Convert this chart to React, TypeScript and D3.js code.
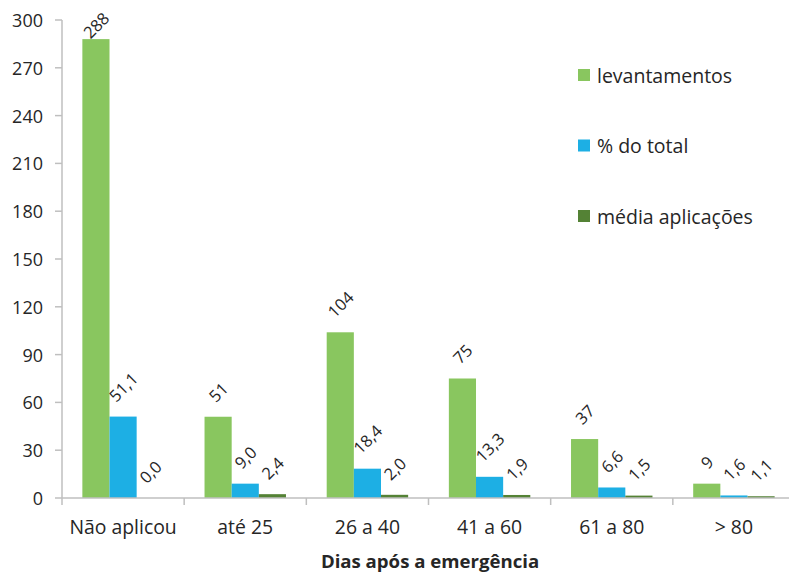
import React from "react";
import * as d3 from "d3";

const categories = ["Não aplicou", "até 25", "26 a 40", "41 a 60", "61 a 80", "> 80"];
const seriesNames = ["levantamentos", "% do total", "média aplicações"];
const levantamentos = [288, 51, 104, 75, 37, 9];
const percentTotal = [51.1, 9.0, 18.4, 13.3, 6.6, 1.6];
const mediaAplicacoes = [0.0, 2.4, 2.0, 1.9, 1.5, 1.1];
const yTicks = [0, 30, 60, 90, 120, 150, 180, 210, 240, 270, 300];
const xTitle = "Dias após a emergência";

const seriesValues = [levantamentos, percentTotal, mediaAplicacoes];
const seriesColors = ["#89C65F", "#1DAFE4", "#548235"];
const seriesDecimals = [0, 1, 1];

const W = 789;
const H = 573;
const FONT = "'Open Sans', Lato, sans-serif";
const LABEL_SIZE = 16.5;

const ctx = typeof document !== "undefined" ? document.createElement("canvas").getContext("2d") : null;
function textWidth(s: string, size: number, weight = "normal") {
  if (!ctx) return s.length * size * 0.55;
  ctx.font = `${weight} ${size}px ${FONT}`;
  return ctx.measureText(s).width;
}

function fmt(v: number, dec: number) {
  return v.toFixed(dec).replace(".", ",");
}

export default function App() {
  const x = d3.scaleBand<string>().domain(categories).range([62, 795]).paddingInner(0).paddingOuter(0);
  const inner = d3
    .scaleBand<string>()
    .domain(seriesNames)
    .range([0, x.bandwidth()])
    .paddingInner(0)
    .paddingOuter(0.75);
  const y = d3.scaleLinear().domain([0, 300]).range([498, 20]);

  const labels: React.ReactNode[] = [];
  const bars: React.ReactNode[] = [];
  seriesValues.forEach((vals, si) => {
    vals.forEach((v, ci) => {
      const bx = (x(categories[ci]) ?? 0) + (inner(seriesNames[si]) ?? 0);
      const bw = inner.bandwidth();
      const top = y(v);
      bars.push(
        <rect key={`b${si}-${ci}`} x={bx} y={top} width={bw} height={y(0) - top} fill={seriesColors[si]} />
      );
      // value label, rotated 45° and kept clear of the bar top
      const txt = fmt(v, seriesDecimals[si]);
      const w = textWidth(txt, LABEL_SIZE);
      const h = LABEL_SIZE * 0.72;
      const half = (w + h) * 0.3535;
      const cx = bx + bw / 2;
      const cy = Math.max(top - 14 - half, 25);
      labels.push(
        <text
          key={`l${si}-${ci}`}
          x={cx}
          y={cy}
          transform={`rotate(-45 ${cx} ${cy})`}
          textAnchor="middle"
          dominantBaseline="central"
          fontSize={LABEL_SIZE}
          fill="#262626"
        >
          {txt}
        </text>
      );
    });
  });

  return (
    <svg
      width={W}
      height={H}
      style={{ position: "absolute", left: 0, top: 0, background: "#fff" }}
      fontFamily={FONT}
    >
      {/* y axis */}
      <line x1={62} x2={62} y1={y(300)} y2={y(0)} stroke="#BFBFBF" strokeWidth={1.5} />
      {yTicks.map((t) => (
        <g key={t}>
          <line x1={55} x2={62} y1={y(t)} y2={y(t)} stroke="#BFBFBF" strokeWidth={1.5} />
          <text x={43} y={y(t)} textAnchor="end" dominantBaseline="central" fontSize={18} fill="#262626">
            {t}
          </text>
        </g>
      ))}
      {bars}
      {/* x axis */}
      <line x1={62} x2={795} y1={y(0)} y2={y(0)} stroke="#BFBFBF" strokeWidth={1.5} />
      {categories.map((c) => (
        <g key={c}>
          <line x1={x(c)!} x2={x(c)!} y1={y(0)} y2={y(0) + 7} stroke="#BFBFBF" strokeWidth={1.5} />
          <text x={x(c)! + x.bandwidth() / 2} y={534} textAnchor="middle" fontSize={19.4} fill="#262626">
            {c}
          </text>
        </g>
      ))}
      {labels}
      <text x={430} y={568} textAnchor="middle" fontSize={18.6} fontWeight="bold" fill="#262626">
        {xTitle}
      </text>
      {/* legend */}
      {seriesNames.map((n, i) => (
        <g key={n} transform={`translate(578, ${75 + i * 70.5})`}>
          <rect x={0} y={-6} width={12} height={12} fill={seriesColors[i]} />
          <text x={19} y={0} dominantBaseline="central" fontSize={19.5} fill="#262626">
            {n}
          </text>
        </g>
      ))}
    </svg>
  );
}
